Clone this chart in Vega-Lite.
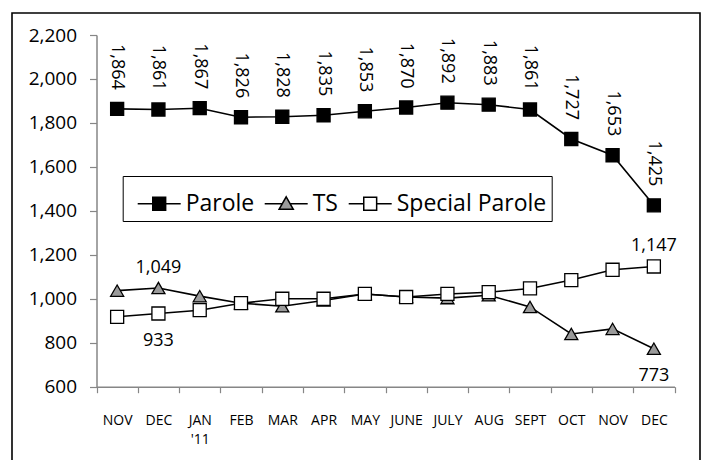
{
  "$schema": "https://vega.github.io/schema/vega-lite/v6.json",
  "width": 688,
  "height": 450,
  "autosize": {"type": "none"},
  "padding": {"left": 12, "top": 13, "right": 4, "bottom": -3},
  "background": "white",
  "config": {
    "font": "Open Sans",
    "view": {"stroke": "black", "strokeWidth": 1.6}
  },
  "data": {
    "values": [
      {"period": "NOV 2010", "series": "Parole", "value": 1864},
      {"period": "DEC 2010", "series": "Parole", "value": 1861},
      {"period": "JAN 2011", "series": "Parole", "value": 1867},
      {"period": "FEB 2011", "series": "Parole", "value": 1826},
      {"period": "MAR 2011", "series": "Parole", "value": 1828},
      {"period": "APR 2011", "series": "Parole", "value": 1835},
      {"period": "MAY 2011", "series": "Parole", "value": 1853},
      {"period": "JUNE 2011", "series": "Parole", "value": 1870},
      {"period": "JULY 2011", "series": "Parole", "value": 1892},
      {"period": "AUG 2011", "series": "Parole", "value": 1883},
      {"period": "SEPT 2011", "series": "Parole", "value": 1861},
      {"period": "OCT 2011", "series": "Parole", "value": 1727},
      {"period": "NOV 2011", "series": "Parole", "value": 1653},
      {"period": "DEC 2011", "series": "Parole", "value": 1425},
      {"period": "NOV 2010", "series": "TS", "value": 1037},
      {"period": "DEC 2010", "series": "TS", "value": 1049},
      {"period": "JAN 2011", "series": "TS", "value": 1012},
      {"period": "FEB 2011", "series": "TS", "value": 980},
      {"period": "MAR 2011", "series": "TS", "value": 966},
      {"period": "APR 2011", "series": "TS", "value": 992},
      {"period": "MAY 2011", "series": "TS", "value": 1022},
      {"period": "JUNE 2011", "series": "TS", "value": 1008},
      {"period": "JULY 2011", "series": "TS", "value": 1003},
      {"period": "AUG 2011", "series": "TS", "value": 1016},
      {"period": "SEPT 2011", "series": "TS", "value": 963},
      {"period": "OCT 2011", "series": "TS", "value": 840},
      {"period": "NOV 2011", "series": "TS", "value": 863},
      {"period": "DEC 2011", "series": "TS", "value": 773},
      {"period": "NOV 2010", "series": "Special Parole", "value": 918},
      {"period": "DEC 2010", "series": "Special Parole", "value": 933},
      {"period": "JAN 2011", "series": "Special Parole", "value": 948},
      {"period": "FEB 2011", "series": "Special Parole", "value": 980},
      {"period": "MAR 2011", "series": "Special Parole", "value": 1000},
      {"period": "APR 2011", "series": "Special Parole", "value": 1000},
      {"period": "MAY 2011", "series": "Special Parole", "value": 1022},
      {"period": "JUNE 2011", "series": "Special Parole", "value": 1008},
      {"period": "JULY 2011", "series": "Special Parole", "value": 1022},
      {"period": "AUG 2011", "series": "Special Parole", "value": 1030},
      {"period": "SEPT 2011", "series": "Special Parole", "value": 1047},
      {"period": "OCT 2011", "series": "Special Parole", "value": 1085},
      {"period": "NOV 2011", "series": "Special Parole", "value": 1132},
      {"period": "DEC 2011", "series": "Special Parole", "value": 1147}
    ]
  },
  "encoding": {
    "x": {
      "field": "period",
      "type": "ordinal",
      "sort": null,
      "scale": {"type": "band", "range": [84.5, 662.5], "paddingInner": 0, "paddingOuter": 0},
      "axis": {
        "orient": "bottom",
        "offset": -76.3,
        "title": null,
        "domainColor": "#868686",
        "domainWidth": 1.5,
        "tickColor": "#868686",
        "tickWidth": 1.2,
        "tickSize": 6,
        "tickBand": "extent",
        "labelAngle": 0,
        "labelColor": "black",
        "labelFontSize": 14,
        "labelPadding": 21,
        "labelLineHeight": 19,
        "labelBaseline": "top",
        "labelExpr": "!isValid(datum.value) ? '' : datum.value == 'JAN 2011' ? ['JAN', \"'11\"] : split(datum.value, ' ')[0]"
      }
    },
    "y": {
      "field": "value",
      "type": "quantitative",
      "scale": {"domain": [600, 2200], "range": [373.7, 22], "nice": false, "zero": false},
      "axis": {
        "orient": "left",
        "offset": -84.5,
        "title": null,
        "values": [600, 800, 1000, 1200, 1400, 1600, 1800, 2000, 2200],
        "format": ",.0f",
        "grid": false,
        "domainColor": "#868686",
        "domainWidth": 1.5,
        "tickColor": "#868686",
        "tickWidth": 1.2,
        "tickSize": 7,
        "labelColor": "black",
        "labelFontSize": 19,
        "labelPadding": 13
      }
    }
  },
  "layer": [
    {
      "mark": {"type": "line", "color": "black", "strokeWidth": 1.6},
      "encoding": {"detail": {"field": "series"}}
    },
    {
      "mark": {"type": "point", "filled": true, "stroke": "black", "strokeWidth": 1.3, "size": 170, "opacity": 1},
      "encoding": {
        "shape": {
          "field": "series",
          "type": "nominal",
          "scale": {"domain": ["Parole", "Special Parole", "TS"], "range": ["square", "square", "triangle-up"]},
          "legend": null
        },
        "fill": {
          "field": "series",
          "type": "nominal",
          "scale": {"domain": ["Parole", "TS", "Special Parole"], "range": ["black", "#9a9a9a", "white"]},
          "legend": {
            "orient": "none",
            "legendX": 110.7,
            "legendY": 163,
            "direction": "horizontal",
            "title": null,
            "strokeColor": "black",
            "fillColor": "white",
            "padding": 5,
            "symbolSize": 1849,
            "symbolStrokeWidth": 1.5,
            "symbolStrokeColor": "black",
            "symbolOpacity": 1,
            "symbolOffset": 9,
            "labelFontSize": 23,
            "labelColor": "black",
            "labelOffset": 4,
            "columnPadding": 0,
            "encode": {
              "symbols": {
                "update": {
                  "shape": {"signal": "datum.value === 'TS' ? 'M-1,0H-0.17M0.17,0H1M0,-0.32L0.33,0.26H-0.33Z' : 'M-1,0H-0.3M0.3,0H1M-0.3,-0.3H0.3V0.3H-0.3Z'"},
                  "stroke": {"value": "black"},
                  "strokeWidth": {"value": 1.5},
                  "opacity": {"value": 1}
                }
              }
            }
          }
        }
      }
    },
    {
      "transform": [{"filter": "datum.series === 'Parole'"}],
      "mark": {"type": "text", "angle": 90, "align": "right", "baseline": "middle", "dx": -19, "fontSize": 18, "color": "black"},
      "encoding": {"text": {"field": "value", "type": "quantitative", "format": ","}}
    },
    {
      "transform": [{"filter": "(datum.series === 'TS' && datum.period === 'DEC 2010') || (datum.series === 'Special Parole' && datum.period === 'DEC 2011')"}],
      "mark": {"type": "text", "align": "center", "baseline": "middle", "dy": -20, "fontSize": 18, "color": "black"},
      "encoding": {"text": {"field": "value", "type": "quantitative", "format": ","}}
    },
    {
      "transform": [{"filter": "(datum.series === 'Special Parole' && datum.period === 'DEC 2010') || (datum.series === 'TS' && datum.period === 'DEC 2011')"}],
      "mark": {"type": "text", "align": "center", "baseline": "middle", "dy": 27, "fontSize": 18, "color": "black"},
      "encoding": {"text": {"field": "value", "type": "quantitative", "format": ","}}
    }
  ]
}
